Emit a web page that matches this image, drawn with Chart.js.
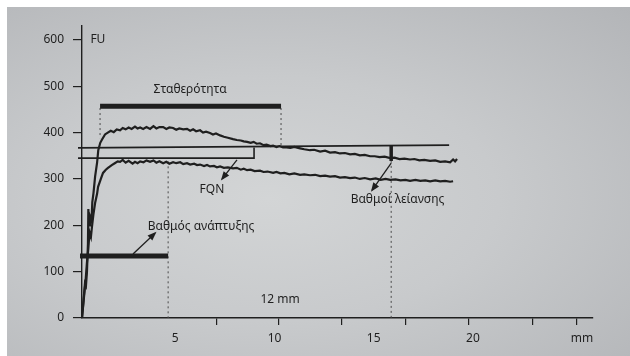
<!DOCTYPE html>
<html>
<head>
<meta charset="utf-8">
<script src="https://cdn.jsdelivr.net/npm/chart.js@4.4.1/dist/chart.umd.min.js"></script>
<style>
  html, body { margin: 0; padding: 0; background: #fff; }
  #wrap { position: relative; width: 630px; height: 356px; overflow: hidden; }
  #paper {
    position: absolute; left: 7px; top: 7px; right: 0; bottom: 0;
    background: radial-gradient(ellipse at 42% 55%, #d3d5d6 0%, #c8cacc 45%, #b3b5b8 100%);
  }
  canvas { position: absolute; left: 0; top: 0; }
</style>
</head>
<body>
<div id="wrap">
  <div id="paper"></div>
  <canvas id="chart" width="630" height="356"></canvas>
</div>
<script>
// farinogram, time in min (mm on paper), consistency in FU
const upperTime = [0.30, 0.38, 0.45, 0.50, 0.55, 0.60, 0.62, 0.66, 0.70, 0.78, 0.82, 0.88, 0.96, 1.06, 1.12, 1.22, 1.31, 1.46,
  1.60, 1.75, 1.90, 2.05, 2.22, 2.35, 2.50, 2.65, 2.80, 2.97, 3.10, 3.23, 3.38, 3.55, 3.73, 3.90, 4.05, 4.20, 4.39, 4.55,
  4.70, 4.89, 5.05, 5.20, 5.40, 5.59, 5.75, 5.90, 6.05, 6.25, 6.40, 6.55, 6.75, 6.90, 7.05, 7.26, 7.45, 7.65, 7.91, 8.10,
  8.30, 8.45, 8.62, 8.80, 8.95, 9.10, 9.27, 9.45, 9.60, 9.80, 9.93, 10.10, 10.25, 10.43, 10.60, 10.80, 11.00, 11.29, 11.50,
  11.79, 12.00, 12.30, 12.55, 12.80, 13.05, 13.30, 13.55, 13.81, 14.05, 14.30, 14.55, 14.82, 15.05, 15.30, 15.55, 15.83,
  16.05, 16.30, 16.55, 16.83, 17.05, 17.30, 17.55, 17.84, 18.10, 18.35, 18.60, 18.85, 19.00, 19.10, 19.20];
const upperFU = [0, 40, 75, 70, 100, 160, 235, 200, 220, 210, 250, 270, 305, 335, 362, 378, 385, 396,
  400, 404, 401, 407, 405, 410, 407, 411, 408, 413, 409, 411, 408, 412, 408, 414, 409, 412, 412, 408,
  411, 410, 406, 409, 407, 408, 404, 407, 403, 405, 400, 402, 399, 396, 398, 394, 391, 389, 386, 384,
  383, 381, 380, 378, 380, 376, 377, 373, 374, 371, 372, 369, 371, 368, 368, 367, 369, 366, 364,
  362, 363, 359, 361, 357, 358, 355, 356, 353, 354, 351, 352, 349, 349, 347, 348, 345,
  346, 343, 344, 342, 343, 340, 341, 339, 340, 337, 338, 336, 342, 338, 343];

const lowerTime = [0.30, 0.40, 0.48, 0.55, 0.62, 0.68, 0.75, 0.80, 0.88, 0.96, 1.06, 1.11, 1.25, 1.36, 1.50, 1.61, 1.80,
  1.95, 2.10, 2.22, 2.35, 2.50, 2.65, 2.85, 2.97, 3.10, 3.23, 3.40, 3.55, 3.73, 3.90, 4.05, 4.20, 4.39, 4.55, 4.70, 4.89,
  5.05, 5.25, 5.40, 5.59, 5.75, 5.95, 6.10, 6.25, 6.45, 6.60, 6.75, 6.95, 7.10, 7.26, 7.45, 7.65, 7.91, 8.10, 8.30, 8.45,
  8.62, 8.80, 9.00, 9.27, 9.45, 9.65, 9.93, 10.10, 10.30, 10.50, 10.75, 11.00, 11.29, 11.50, 11.79, 12.05, 12.30, 12.55,
  12.80, 13.05, 13.30, 13.55, 13.81, 14.05, 14.30, 14.55, 14.82, 15.10, 15.35, 15.60, 15.83, 16.10, 16.35, 16.60, 16.83,
  17.10, 17.35, 17.60, 17.84, 18.10, 18.35, 18.60, 18.85, 19.00];
const lowerFU = [0, 45, 80, 120, 150, 185, 175, 196, 225, 248, 268, 283, 300, 313, 320, 324, 330,
  334, 338, 337, 341, 335, 339, 333, 337, 334, 338, 336, 340, 337, 340, 335, 338, 334, 337, 333, 336,
  334, 336, 332, 334, 331, 333, 330, 331, 328, 330, 327, 328, 325, 327, 324, 325, 323, 324, 320, 322,
  319, 320, 317, 318, 315, 316, 313, 315, 312, 313, 310, 312, 309, 310, 308, 309, 306, 307,
  305, 306, 303, 304, 302, 303, 300, 302, 299, 301, 298, 300, 298, 299, 297, 298, 296,
  298, 296, 297, 295, 297, 295, 296, 294, 295];

// evaluation marks drawn on the curve
const stabilityBar = [[1.21, 457], [10.33, 457]];
const developmentBar = [[0.2, 134], [4.64, 134]];
const breakdownBar = [[15.88, 372], [15.88, 339]];
const refLine = [[0.1, 367], [18.8, 373]];
const fqnBox = [[0.1, 345], [8.97, 345], [8.97, 368]];
const dashedMarks = [
  [[1.21, 453], [1.21, 388]],
  [[10.33, 453], [10.33, 370]],
  [[4.64, 338], [4.64, 0]],
  [[15.88, 339], [15.88, 0]]
];
const arrows = [
  [[8.11, 341], [7.36, 300]],
  [[2.87, 138], [3.98, 183]],
  [[15.88, 334], [14.92, 276]]
];

const yTicks = [0, 100, 200, 300, 400, 500, 600];
const xTickMarks = [7.1, 10.2, 13.4, 16.6, 19.8, 23.0, 25.2];
const xLabelAt = [5, 10, 15, 20, 25.5];
const xTickLabels = ["5", "10", "15", "20", "mm"];

const notes = [
  { text: "FU", t: 1.1, v: 600 },
  { text: "Σταθερότητα", t: 5.75, v: 492 },
  { text: "FQN", t: 6.85, v: 276 },
  { text: "Βαθμοί λείανσης", t: 16.2, v: 255 },
  { text: "Βαθμός ανάπτυξης", t: 6.3, v: 198 },
  { text: "12 mm", t: 10.28, v: 39 }
];

const INK = "#1f1f1f";
const FONT = "'Noto Sans', 'Open Sans', sans-serif";

function pts(ts, vs) {
  return ts.map((t, i) => ({ x: t, y: vs[i] }));
}
function pairs(list) {
  return list.map((p) => ({ x: p[0], y: p[1] }));
}
function seg(data, width, extra) {
  return Object.assign({
    data: pairs(data),
    borderColor: INK,
    borderWidth: width,
    pointRadius: 0,
    tension: 0,
    fill: false,
    clip: false
  }, extra || {});
}

const datasets = [
  { data: pts(upperTime, upperFU), borderColor: INK, borderWidth: 2.2, pointRadius: 0, tension: 0, clip: false },
  { data: pts(lowerTime, lowerFU), borderColor: INK, borderWidth: 2.2, pointRadius: 0, tension: 0, clip: false },
  seg(stabilityBar, 5),
  seg(developmentBar, 5),
  seg(breakdownBar, 3.5),
  seg(refLine, 1.6),
  seg(fqnBox, 1.6)
];
dashedMarks.forEach((d) => datasets.push(seg(d, 1, { borderColor: "#4a4a4a", borderDash: [2, 3] })));
arrows.forEach((d) => datasets.push(seg(d, 1.3)));

const annotate = {
  id: "annotate",
  afterDatasetsDraw(chart) {
    const { ctx, scales } = chart;
    const sx = scales.x, sy = scales.y;
    ctx.save();
    ctx.fillStyle = INK;
    arrows.forEach((a) => {
      const x0 = sx.getPixelForValue(a[0][0]), y0 = sy.getPixelForValue(a[0][1]);
      const x1 = sx.getPixelForValue(a[1][0]), y1 = sy.getPixelForValue(a[1][1]);
      const ang = Math.atan2(y1 - y0, x1 - x0);
      ctx.save();
      ctx.translate(x1, y1);
      ctx.rotate(ang);
      ctx.beginPath();
      ctx.moveTo(2, 0);
      ctx.lineTo(-7, -3.5);
      ctx.lineTo(-7, 3.5);
      ctx.closePath();
      ctx.fill();
      ctx.restore();
    });
    ctx.font = "12px " + FONT;
    ctx.textAlign = "center";
    ctx.textBaseline = "middle";
    notes.forEach((n) => {
      ctx.fillText(n.text, sx.getPixelForValue(n.t), sy.getPixelForValue(n.v));
    });
    ctx.restore();
  }
};

new Chart(document.getElementById("chart"), {
  type: "line",
  data: { datasets },
  plugins: [annotate],
  options: {
    responsive: false,
    animation: false,
    layout: { padding: { top: 26, right: 37, left: 0, bottom: 0 } },
    plugins: { legend: { display: false }, tooltip: { enabled: false } },
    scales: {
      x: {
        type: "linear",
        position: "bottom",
        weight: 0,
        min: 0.3,
        max: 26.05,
        afterBuildTicks: (s) => { s.ticks = xTickMarks.map((v) => ({ value: v })); },
        afterFit: (s) => { s.height = 9; },
        border: { display: true, color: INK, width: 1.4 },
        grid: { drawOnChartArea: false, drawTicks: true, tickLength: 7, color: INK, lineWidth: 1.2 },
        ticks: { display: false }
      },
      xl: {
        type: "linear",
        position: "bottom",
        weight: 1,
        min: 0.3,
        max: 26.05,
        afterBuildTicks: (s) => { s.ticks = xLabelAt.map((v) => ({ value: v })); },
        afterFit: (s) => { s.height = 29; },
        border: { display: false },
        grid: { display: false, drawTicks: false },
        ticks: {
          padding: 4,
          maxRotation: 0,
          autoSkip: false,
          color: INK,
          font: { family: FONT, size: 12 },
          callback: (v, i) => xTickLabels[i]
        }
      },
      y: {
        type: "linear",
        min: 0,
        max: 630,
        afterBuildTicks: (s) => { s.ticks = yTicks.map((v) => ({ value: v })); },
        afterFit: (s) => { s.width = 82; },
        border: { display: true, color: INK, width: 1.4 },
        grid: { drawOnChartArea: false, drawTicks: true, tickLength: 9, color: INK, lineWidth: 1.2 },
        ticks: { padding: 9, color: INK, font: { family: FONT, size: 12 } }
      }
    }
  }
});
</script>
</body>
</html>
